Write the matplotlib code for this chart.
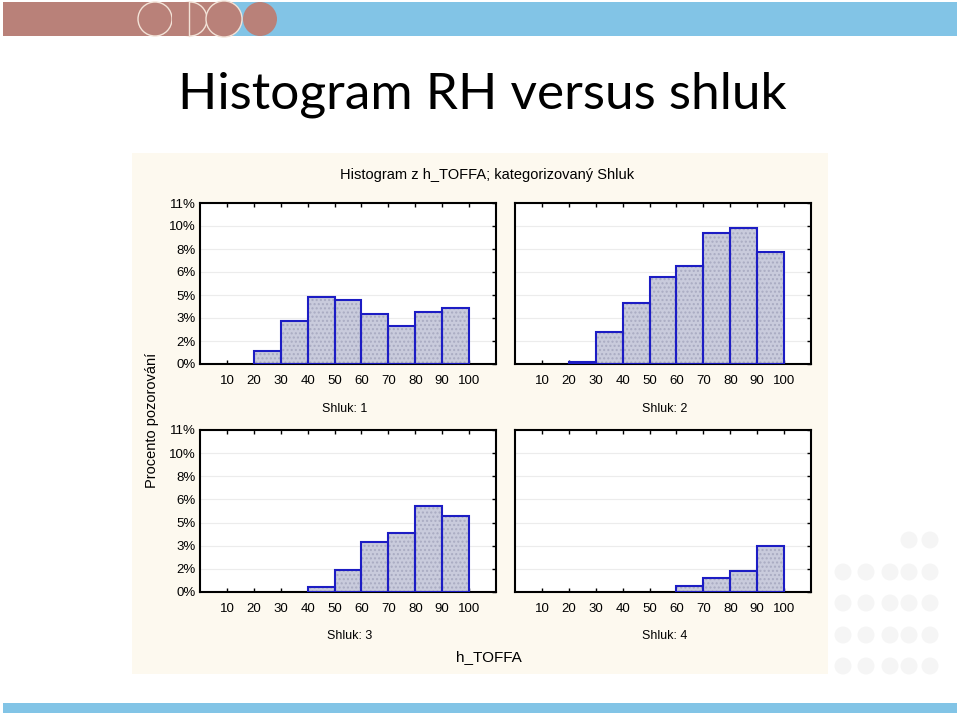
import matplotlib
matplotlib.use("Agg")
import matplotlib.pyplot as plt
from matplotlib.patches import Rectangle, Ellipse

# bin left edges (width 10) and percent of observations per cluster
bin_left = [10, 20, 30, 40, 50, 60, 70, 80, 90]
shluk1 = [0, 0.93, 2.99, 4.69, 4.43, 3.49, 2.62, 3.62, 3.87]
shluk2 = [0, 0.16, 2.24, 4.27, 6.03, 6.83, 9.14, 9.49, 7.79]
shluk3 = [0, 0, 0, 0.35, 1.55, 3.46, 4.11, 5.98, 5.26]
shluk4 = [0, 0, 0, 0, 0, 0.41, 0.97, 1.45, 3.20]
x_ticks = [10, 20, 30, 40, 50, 60, 70, 80, 90, 100]
y_ticks = [0, 1.6, 3.2, 4.8, 6.4, 8.0, 9.6, 11.2]
y_labels = ['0%', '2%', '3%', '5%', '6%', '8%', '10%', '11%']
panel_titles = ['Shluk: 1', 'Shluk: 2', 'Shluk: 3', 'Shluk: 4']

W, H = 960, 716
fig = plt.figure(figsize=(W / 100, H / 100), dpi=100)
fig.patch.set_facecolor('white')
plt.rcParams['font.family'] = ['Liberation Sans', 'DejaVu Sans']


def fx(x):
    return x / W


def fy(y):
    return 1 - y / H


def rect(x0, y0, x1, y1, color, z=0):
    fig.add_artist(Rectangle((fx(x0), fy(y1)), fx(x1) - fx(x0), fy(y0) - fy(y1),
                             transform=fig.transFigure, facecolor=color,
                             edgecolor='none', zorder=z))


def ell(cx, cy, r, face, edge, z=1):
    fig.add_artist(Ellipse((fx(cx), fy(cy)), 2 * r / W, 2 * r / H,
                           transform=fig.transFigure, facecolor=face,
                           edgecolor=edge, lw=1, zorder=z))


# slide decoration
rect(3, 2, 233, 36, '#b98179')
rect(233, 2, 957, 36, '#82c4e6')
ell(155, 19, 17, 'none', '#f3e3d8', 2)
rect(172, 2, 189, 36, '#b98179', 3)
ell(190, 19, 17, 'none', '#f3e3d8', 2)
fig.add_artist(plt.Line2D([fx(189), fx(189)], [fy(2), fy(36)], transform=fig.transFigure,
                          color='#f3e3d8', lw=1, zorder=4))
ell(224, 19, 18, '#b98179', '#f3e3d8', 2)
ell(260, 19, 17, '#b98179', 'none', 2)
rect(3, 703, 957, 713, '#82c4e6')

# faint dotted pattern at the lower right
for cy in [540, 572, 603, 635, 666]:
    for cx in [843, 866, 890, 909, 930]:
        if cy == 540 and cx < 900:
            continue
        fig.add_artist(Ellipse((fx(cx), fy(cy)), 17 / W, 17 / H, transform=fig.transFigure,
                               facecolor='#f5f5f5', edgecolor='none', zorder=0))

fig.text(fx(482), fy(109), 'Histogram RH versus shluk', fontsize=37,
         family=['Lato', 'DejaVu Sans'], ha='center', va='baseline')

# chart panel
rect(132, 153, 828, 674, '#fdf9ef')
fig.text(fx(487), fy(175), 'Histogram z h_TOFFA; kategorizovaný Shluk',
         fontsize=10.5, ha='center', va='center')
fig.text(fx(152), fy(420), 'Procento pozorování', fontsize=10.5, rotation=90,
         ha='center', va='center')
fig.text(fx(489), fy(657), 'h_TOFFA', fontsize=11, ha='center', va='center')

# axes boxes in pixels: left, top, right, bottom
boxes = [(200, 203, 496, 364), (515, 203, 811, 364),
         (200, 430, 496, 592), (515, 430, 811, 592)]
data = [shluk1, shluk2, shluk3, shluk4]
label_pos = [(345, 409), (665, 409), (350, 636), (665, 636)]

for i, (box, vals) in enumerate(zip(boxes, data)):
    l, t, r, b = box
    ax = fig.add_axes([fx(l), fy(b), fx(r) - fx(l), fy(t) - fy(b)])
    ax.set_facecolor('white')
    xs = [x for x, v in zip(bin_left, vals) if v > 0]
    hs = [v for v in vals if v > 0]
    ax.bar(xs, hs, width=10, align='edge', color='#c9cbdc', hatch='....',
           edgecolor='#a9abc2', linewidth=0, zorder=2)
    ax.bar(xs, hs, width=10, align='edge', fill=False,
           edgecolor='#1c1cc4', linewidth=1.5, zorder=3)
    ax.set_xlim(0, 110)
    ax.set_ylim(0, 11.2)
    ax.set_xticks(x_ticks)
    ax.set_yticks(y_ticks)
    ax.set_xticklabels([str(v) for v in x_ticks], fontsize=9.5)
    if i % 2 == 0:
        ax.set_yticklabels(y_labels, fontsize=9.5)
    else:
        ax.set_yticklabels([])
    ax.tick_params(direction='in', top=True, right=True, left=False, length=3,
                   width=1, pad=8)
    ax.tick_params(axis='y', pad=3)
    ax.grid(axis='y', color='#ececec', lw=0.8, zorder=0)
    for s in ax.spines.values():
        s.set_linewidth(1.5)
    lx, ly = label_pos[i]
    fig.text(fx(lx), fy(ly), panel_titles[i], fontsize=9, ha='center', va='center')

fig.savefig('out.png', dpi=100)
